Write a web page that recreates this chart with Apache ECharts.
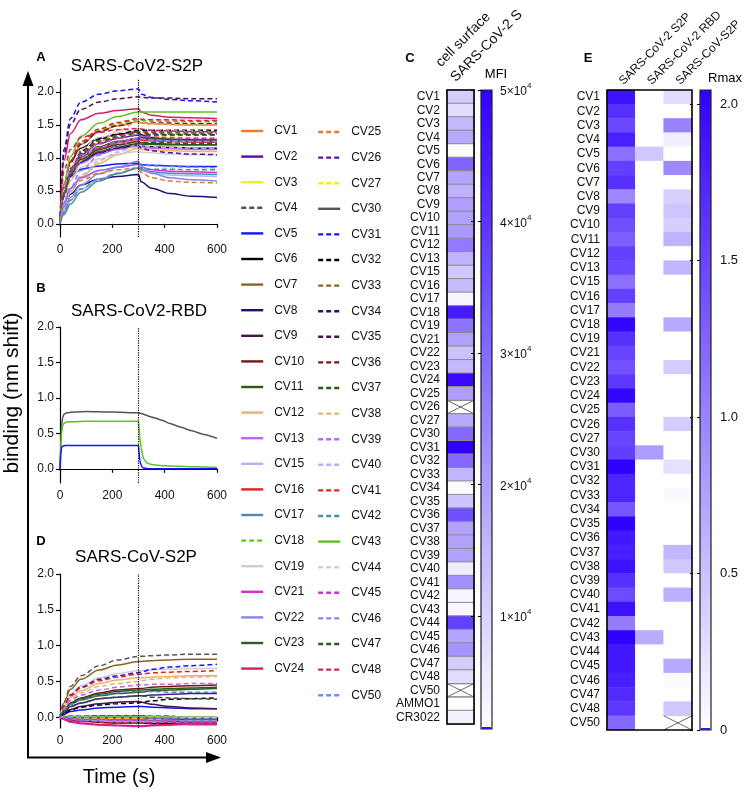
<!DOCTYPE html>
<html><head><meta charset="utf-8">
<script src="https://cdn.jsdelivr.net/npm/echarts@6/dist/echarts.min.js"></script>
<style>html,body{margin:0;padding:0;background:#fff}#c{width:747px;height:790px}</style>
</head><body><div id="c"></div>
<script>
// ---------- DATA ----------
const cvNames = ['CV1','CV2','CV3','CV4','CV5','CV6','CV7','CV8','CV9','CV10','CV11','CV12','CV13','CV15','CV16','CV17','CV18','CV19','CV21','CV22','CV23','CV24','CV25','CV26','CV27','CV30','CV31','CV32','CV33','CV34','CV35','CV36','CV37','CV38','CV39','CV40','CV41','CV42','CV43','CV44','CV45','CV46','CV47','CV48','CV50'];
const bindingTicks = [0, 0.5, 1, 1.5, 2];

// Time points (s) for panels A and D
const timeAD = [0, 15, 40, 80, 150, 220, 300, 310, 350, 420, 500, 600];
// Panel A: SARS-CoV2-S2P, one row per cvNames entry
const bindingS2P = [
 [0,.54,.93,1.21,1.40,1.49,1.55,1.53,1.52,1.51,1.50,1.50],
 [0,.47,.81,1.05,1.22,1.30,1.35,1.32,1.29,1.27,1.26,1.25],
 [0,.23,.48,.71,.92,1.05,1.15,1.17,1.18,1.19,1.20,1.20],
 [0,.49,.84,1.09,1.26,1.34,1.40,1.39,1.39,1.38,1.38,1.38],
 [0,.51,.72,.83,.88,.91,.92,.90,.89,.88,.87,.87],
 [0,.42,.72,.94,1.08,1.15,1.20,1.18,1.17,1.16,1.15,1.15],
 [0,.46,.78,1.01,1.17,1.25,1.30,1.29,1.28,1.28,1.27,1.27],
 [0,.26,.45,.59,.68,.72,.75,.64,.54,.46,.42,.40],
 [0,.60,.95,1.15,1.30,1.36,1.40,1.35,1.31,1.28,1.26,1.25],
 [0,.44,.75,.98,1.13,1.20,1.25,1.23,1.22,1.21,1.20,1.20],
 [0,.43,.73,.95,1.10,1.17,1.22,1.21,1.21,1.20,1.20,1.20],
 [0,.23,.48,.71,.92,1.05,1.15,1.13,1.12,1.11,1.10,1.10],
 [0,.41,.71,.92,1.06,1.13,1.18,1.17,1.15,1.14,1.13,1.13],
 [0,.17,.36,.53,.68,.77,.85,.81,.77,.74,.73,.72],
 [0,.45,.77,1.00,1.15,1.23,1.28,1.27,1.26,1.25,1.24,1.24],
 [0,.14,.30,.48,.65,.76,.85,.82,.79,.77,.76,.75],
 [0,.55,.95,1.23,1.42,1.52,1.58,1.57,1.56,1.56,1.55,1.55],
 [0,.39,.66,.86,.99,1.06,1.10,1.09,1.08,1.06,1.05,1.05],
 [0,.32,.54,.70,.81,.86,.90,.86,.82,.80,.79,.78],
 [0,.19,.40,.59,.76,.86,.95,.87,.77,.70,.67,.65],
 [0,.46,.78,1.01,1.17,1.25,1.30,1.30,1.29,1.29,1.28,1.28],
 [0,.96,1.37,1.58,1.68,1.72,1.75,1.70,1.65,1.62,1.61,1.60],
 [0,.30,.51,.66,.77,.82,.85,.78,.70,.65,.63,.62],
 [0,.42,.72,.94,1.08,1.15,1.20,1.15,1.11,1.08,1.06,1.05],
 [0,.47,.81,1.05,1.22,1.30,1.35,1.34,1.33,1.32,1.31,1.30],
 [0,.46,.78,1.01,1.17,1.25,1.30,1.29,1.28,1.27,1.26,1.25],
 [0,1.13,1.60,1.85,1.97,2.02,2.05,1.97,1.92,1.89,1.87,1.85],
 [0,.50,.85,1.11,1.28,1.36,1.42,1.42,1.42,1.42,1.42,1.42],
 [0,.49,.84,1.09,1.26,1.34,1.40,1.40,1.40,1.40,1.40,1.40],
 [0,.47,.81,1.05,1.22,1.30,1.35,1.35,1.35,1.35,1.35,1.35],
 [0,1.06,1.51,1.74,1.85,1.90,1.93,1.92,1.91,1.91,1.90,1.90],
 [0,.54,.93,1.21,1.40,1.49,1.55,1.54,1.53,1.53,1.52,1.52],
 [0,.48,.83,1.07,1.24,1.32,1.38,1.37,1.37,1.36,1.36,1.36],
 [0,.31,.65,.96,1.24,1.41,1.55,1.54,1.52,1.51,1.50,1.50],
 [0,.45,.77,1.00,1.16,1.24,1.30,1.29,1.27,1.26,1.25,1.25],
 [0,.24,.50,.74,.96,1.09,1.20,1.19,1.17,1.16,1.15,1.15],
 [0,.56,.96,1.25,1.44,1.54,1.60,1.59,1.58,1.58,1.57,1.57],
 [0,.17,.36,.53,.68,.77,.85,.84,.83,.83,.82,.82],
 [0,.60,1.02,1.33,1.53,1.63,1.70,1.70,1.70,1.70,1.70,1.70],
 [0,.51,.87,1.13,1.31,1.39,1.45,1.44,1.43,1.42,1.41,1.40],
 [0,.47,.81,1.05,1.22,1.30,1.35,1.33,1.32,1.31,1.30,1.30],
 [0,.26,.55,.81,1.04,1.18,1.30,1.29,1.27,1.26,1.25,1.25],
 [0,.44,.75,.98,1.13,1.20,1.25,1.24,1.23,1.23,1.22,1.22],
 [0,.80,1.13,1.31,1.39,1.43,1.45,1.44,1.42,1.41,1.40,1.40],
 [0,.32,.54,.70,.81,.86,.90,.89,.88,.87,.86,.85]
];
// Panel D: SARS-CoV-S2P, one row per cvNames entry
const bindingSARS1 = [
 [0,-.01,-.02,-.02,-.03,-.03,-.03,-.03,-.04,-.04,-.05,-.05],
 [0,.08,.15,.20,.26,.28,.30,.30,.31,.32,.33,.33],
 [0,-.01,-.02,-.03,-.03,-.04,-.04,-.04,-.05,-.05,-.06,-.06],
 [0,.21,.43,.58,.72,.80,.85,.85,.86,.87,.88,.88],
 [0,.04,.08,.10,.13,.14,.15,.15,.14,.13,.12,.12],
 [0,-.02,-.04,-.05,-.07,-.08,-.08,-.08,-.09,-.09,-.10,-.10],
 [0,.20,.39,.53,.66,.73,.78,.78,.79,.80,.81,.81],
 [0,-.01,-.03,-.03,-.04,-.05,-.05,-.05,-.06,-.06,-.07,-.07],
 [0,.06,.11,.15,.19,.21,.22,.21,.18,.15,.13,.12],
 [0,.10,.20,.27,.34,.38,.40,.40,.42,.43,.44,.45],
 [0,.10,.19,.26,.32,.36,.38,.38,.39,.40,.41,.42],
 [0,.14,.28,.37,.47,.52,.55,.55,.56,.57,.58,.58],
 [0,.01,.01,.01,.02,.02,.02,.02,.01,.01,0,0],
 [0,0,0,0,0,0,0,0,-.01,-.01,-.02,-.02],
 [0,-.01,-.01,-.01,-.02,-.02,-.02,-.02,-.03,-.03,-.04,-.04],
 [0,-.01,-.02,-.02,-.03,-.03,-.03,-.03,-.04,-.04,-.05,-.05],
 [0,.01,.01,.01,.02,.02,.02,.02,.01,.01,0,0],
 [0,.16,.33,.44,.55,.61,.65,.65,.66,.67,.68,.68],
 [0,-.03,-.07,-.09,-.11,-.12,-.13,-.13,-.12,-.11,-.10,-.10],
 [0,-.01,-.03,-.04,-.04,-.05,-.05,-.05,-.06,-.07,-.08,-.08],
 [0,.09,.18,.24,.30,.33,.35,.35,.37,.38,.39,.40],
 [0,-.03,-.06,-.08,-.10,-.11,-.12,-.12,-.11,-.10,-.09,-.09],
 [0,-.01,-.01,-.01,-.02,-.02,-.02,-.02,-.03,-.03,-.04,-.04],
 [0,.01,.01,.01,.02,.02,.02,.02,.01,.01,0,0],
 [0,0,-.01,-.01,-.01,-.01,-.01,-.01,-.02,-.02,-.03,-.03],
 [0,0,0,0,0,0,0,0,-.01,-.01,-.02,-.02],
 [0,.16,.31,.42,.53,.58,.62,.63,.67,.70,.72,.74],
 [0,.05,.10,.14,.17,.19,.20,.21,.23,.25,.26,.27],
 [0,.01,.01,.01,.02,.02,.02,.02,.01,.01,0,0],
 [0,0,0,0,0,0,0,0,-.01,-.01,-.02,-.02],
 [0,0,0,0,0,0,0,0,-.01,-.02,-.03,-.03],
 [0,0,0,0,0,0,0,0,-.01,-.01,-.02,-.02],
 [0,.01,.01,.01,.02,.02,.02,.02,.01,.01,0,0],
 [0,.13,.25,.34,.43,.47,.50,.51,.53,.55,.56,.57],
 [0,.11,.23,.31,.38,.42,.45,.45,.46,.46,.47,.47],
 [0,-.02,-.03,-.04,-.05,-.06,-.06,-.06,-.06,-.05,-.05,-.05],
 [0,.15,.30,.41,.51,.56,.60,.60,.62,.63,.64,.65],
 [0,.09,.18,.24,.31,.34,.36,.36,.36,.35,.35,.35],
 [0,.01,.01,.01,.01,.01,.01,.01,.01,0,0,0],
 [0,0,0,0,0,0,0,0,0,0,0,0],
 [0,-.01,-.02,-.03,-.03,-.04,-.04,-.04,-.05,-.05,-.06,-.06],
 [0,-.02,-.04,-.05,-.06,-.07,-.07,-.07,-.07,-.06,-.06,-.06],
 [0,.08,.15,.20,.26,.28,.30,.30,.28,.27,.26,.25],
 [0,-.02,-.04,-.06,-.07,-.08,-.08,-.08,-.08,-.07,-.07,-.07],
 [0,0,0,0,0,0,0,0,-.01,-.01,-.02,-.02]
];
// Panel B: SARS-CoV2-RBD
const timeB = [0,3,6,10,15,25,50,100,200,300,302,305,310,315,320,330,345,360,390,420,460,500,550,600];
const rbdNames = ['CV30', 'CV43', 'CV5'];
const rbdCV30 = [0,.35,.60,.72,.77,.79,.80,.81,.80,.79,.79,.785,.78,.775,.77,.755,.735,.72,.685,.64,.59,.54,.485,.43];
const rbdCV43 = [0,.30,.50,.60,.64,.66,.665,.67,.67,.67,.60,.45,.30,.20,.14,.09,.065,.055,.045,.04,.035,.03,.025,.02];
const rbdCV5  = [0,.20,.30,.32,.325,.33,.33,.33,.33,.33,.25,.12,.05,.02,.01,.005,0,0,0,0,0,0,0,0];

// Panel C: cell surface SARS-CoV-2 S, MFI (null = not tested)
const cRows = cvNames.concat(['AMMO1', 'CR3022']);
const cMFI = [11000,8000,15000,18000,2000,31000,19000,16000,20000,19500,21000,27000,16000,
 12000,14500,3500,45000,28000,
 19500,13000,15000,48000,20000,null,18000,
 30000,50000,30000,15500,2000,13000,35000,19500,19500,19500,5000,23000,3000,3000,38000,18500,22000,11000,8000,
 null,1500,4000];
const mfiTicks = [10000, 20000, 30000, 40000, 50000];
const mfiRange = [1400, 50000];

// Panel E: Rmax
const eCols = ['SARS-CoV-2 S2P', 'SARS-CoV-2 RBD', 'SARS-CoV-S2P'];
const rmaxS2P = [1.9,1.66,1.47,1.8,1.15,1.54,1.66,0.96,1.54,1.41,1.28,1.54,1.47,
 1.15,1.54,1.05,2.0,1.65,
 1.5,1.4,1.6,2.0,1.3,1.65,1.5,
 1.55,2.04,1.75,1.75,1.35,2.04,1.85,1.8,1.92,1.65,1.45,1.92,1.05,2.04,1.85,1.85,1.8,1.7,1.6,
 1.2];
const rmaxRBD = [0,0,0,0,0.45,0,0,0,0,0,0,0,0,
 0,0,0,0,0,
 0,0,0,0,0,0,0,
 0.8,0,0,0,0,0,0,0,0,0,0,0,0,0.67,0,0,0,0,0,
 0];
const rmaxSARS1 = [0.28,0,1.0,0.14,0,0.95,0,0.38,0.47,0.4,0.62,0,0.6,
 0,0,0,0.7,0,
 0,0.42,0,0,0,0.42,0,
 0,0.25,0,0.05,0,0,0,0.58,0.45,0,0.65,0,0,0,0,0.7,0.04,0,0.45,
 null];
const rmaxTicks = [0, 0.5, 1, 1.5, 2];
const rmaxRange = [0, 2.045];

// ---------- STYLES ----------
const lineColors = ['#e87a2c','#5b0ea6','#f2ee1a','#555555','#1414ff','#000000','#8b6424','#16166e','#4c124a','#7c1414','#2c5c12','#e2b574','#c264f2','#b4b2f6','#e42222','#4a8cb2','#62c01e','#cfcfcf','#d232cc','#8484f2','#2c5a2c','#d81e64',
 '#e87a2c','#5b0ea6','#f2ee1a','#555555','#1414ff','#000000','#8b6424','#16166e','#4c124a','#7c1414','#2c5c12','#e2b574','#c264f2','#b4b2f6','#e42222','#4a8cb2','#62c01e','#cfcfcf','#d232cc','#8484f2','#2c5a2c','#d81e64','#6a8ef2'];
const solidSet = ['CV1','CV2','CV3','CV5','CV6','CV7','CV8','CV9','CV10','CV11','CV12','CV13','CV15','CV16','CV17','CV19','CV21','CV22','CV23','CV24','CV30','CV43'];
const FONT = 'Liberation Sans, Arial, Helvetica, sans-serif';
const heatColors = ['#ffffff', '#3000ff'];

// ---------- BUILD ----------
const series = [];
const dotted = {
  silent: true, symbol: ['none', 'none'], animation: false,
  label: { show: false }, lineStyle: { type: 'dotted', color: '#000', width: 1.2 },
  data: [{ xAxis: 300 }]
};
function lineSer(name, grid, times, vals, first, smooth) {
  const i = cvNames.indexOf(name);
  const s = {
    type: 'line', name, xAxisIndex: grid, yAxisIndex: grid,
    data: times.map((t, k) => [t, vals[k]]),
    symbol: 'none', smooth: smooth, smoothMonotone: 'x', animation: false, silent: true,
    lineStyle: { color: lineColors[i], width: 1.5, type: solidSet.includes(name) ? 'solid' : [5, 3] },
    itemStyle: { color: lineColors[i] },
    emphasis: { disabled: true }
  };
  if (first) s.markLine = dotted;
  return s;
}
cvNames.forEach((n, i) => series.push(lineSer(n, 0, timeAD, bindingS2P[i], i === 0, 0.35)));
series.push(lineSer(rbdNames[0], 1, timeB, rbdCV30, true, 0.2));
series.push(lineSer(rbdNames[1], 1, timeB, rbdCV43, false, 0.2));
series.push(lineSer(rbdNames[2], 1, timeB, rbdCV5, false, 0.2));
cvNames.forEach((n, i) => series.push(lineSer(n, 2, timeAD, bindingSARS1[i], i === 0, 0.35)));

// heatmap C
const idxC = series.length;
series.push({
  type: 'heatmap', xAxisIndex: 3, yAxisIndex: 3, silent: true, animation: false,
  data: cMFI.map((v, i) => [0, i, v == null ? '-' : v]),
  itemStyle: { borderColor: '#8c8c8c', borderWidth: 1 },
  emphasis: { disabled: true }
});
// heatmap E
const idxE = series.length;
const eData = [];
[rmaxS2P, rmaxRBD, rmaxSARS1].forEach((arr, c) => arr.forEach((v, r) => eData.push([c, r, v == null ? '-' : v])));
series.push({
  type: 'heatmap', xAxisIndex: 5, yAxisIndex: 5, silent: true, animation: false,
  data: eData, emphasis: { disabled: true }
});

function crossItem(withBox) {
  return function (params, api) {
    const c = api.coord([api.value(0), api.value(1)]);
    const s = api.size([1, 1]);
    const x0 = c[0] - s[0] / 2, y0 = c[1] - s[1] / 2, x1 = x0 + s[0], y1 = y0 + s[1];
    const ch = [
      { type: 'line', shape: { x1: x0, y1: y0, x2: x1, y2: y1 }, style: { stroke: '#444', lineWidth: 0.8 } },
      { type: 'line', shape: { x1: x0, y1: y1, x2: x1, y2: y0 }, style: { stroke: '#444', lineWidth: 0.8 } }
    ];
    if (withBox) ch.push({ type: 'rect', shape: { x: x0, y: y0, width: s[0], height: s[1] }, style: { fill: 'none', stroke: '#8c8c8c', lineWidth: 1 } });
    return { type: 'group', children: ch };
  };
}
// X marks for missing cells
series.push({
  type: 'custom', xAxisIndex: 3, yAxisIndex: 3, silent: true, animation: false, z: 5,
  data: cMFI.map((v, i) => v == null ? [0, i] : null).filter(d => d),
  renderItem: crossItem(true)
});
series.push({
  type: 'custom', xAxisIndex: 5, yAxisIndex: 5, silent: true, animation: false, z: 5,
  data: eData.filter(d => d[2] === '-').map(d => [d[0], d[1]]),
  renderItem: crossItem(false)
});
// frames
function frame(params) {
  const cs = params.coordSys;
  return { type: 'rect', shape: { x: cs.x, y: cs.y, width: cs.width, height: cs.height }, style: { fill: 'none', stroke: '#000', lineWidth: 1.6 } };
}
series.push({ type: 'custom', xAxisIndex: 3, yAxisIndex: 3, data: [[0, 0]], renderItem: frame, silent: true, animation: false, z: 6 });
series.push({ type: 'custom', xAxisIndex: 5, yAxisIndex: 5, data: [[0, 0]], renderItem: frame, silent: true, animation: false, z: 6 });
// colour bars
function bar(params, api) {
  const p0 = api.coord([0, api.value(1)]);
  const p1 = api.coord([1, api.value(2)]);
  return {
    type: 'group', children: [
      { type: 'rect', shape: { x: p0[0], y: p1[1], width: p1[0] - p0[0], height: p0[1] - p1[1] },
        style: { fill: new echarts.graphic.LinearGradient(0, 0, 0, 1, [{ offset: 0, color: heatColors[1] }, { offset: 1, color: heatColors[0] }]), stroke: '#222', lineWidth: 1.2 } },
      { type: 'line', shape: { x1: p0[0] + 1, y1: p0[1] - 1, x2: p1[0] - 1, y2: p0[1] - 1 }, style: { stroke: '#2020e0', lineWidth: 2 } }
    ]
  };
}
series.push({ type: 'custom', xAxisIndex: 4, yAxisIndex: 4, data: [[0, mfiRange[0], mfiRange[1]]], renderItem: bar, silent: true, animation: false, z: 1 });
series.push({ type: 'custom', xAxisIndex: 6, yAxisIndex: 6, data: [[0, rmaxRange[0], rmaxRange[1]]], renderItem: bar, silent: true, animation: false, z: 1 });

// ---------- AXES ----------
const axLine = { show: true, lineStyle: { color: '#000', width: 1.2 } };
const tick = { show: true, length: 4, lineStyle: { color: '#000', width: 1.2 } };
const lab = { color: '#111', fontSize: 12, fontFamily: FONT };
function timeAxis(g) {
  return { type: 'value', gridIndex: g, min: 0, max: 600, interval: 200, axisLine: axLine, axisTick: tick,
    axisLabel: Object.assign({ margin: 7 }, lab), splitLine: { show: false } };
}
function bindAxis(g, min, max) {
  return { type: 'value', gridIndex: g, min, max, axisLine: axLine,
    axisTick: Object.assign({ customValues: bindingTicks }, tick),
    axisLabel: Object.assign({ customValues: bindingTicks, margin: 6, formatter: v => v.toFixed(1) }, lab),
    splitLine: { show: false } };
}
const xAxis = [
  timeAxis(0), timeAxis(1), timeAxis(2),
  { type: 'category', gridIndex: 3, position: 'top', data: ['cell surface\nSARS-CoV-2 S'],
    axisLine: { show: false }, axisTick: { show: false },
    axisLabel: { rotate: -45, align: 'left', verticalAlign: 'bottom', interval: 0, margin: 3, fontSize: 14, lineHeight: 21, color: '#111', fontFamily: FONT } },
  { type: 'value', gridIndex: 4, min: 0, max: 1, show: false },
  { type: 'category', gridIndex: 5, position: 'top', data: eCols,
    axisLine: { show: false }, axisTick: { show: false },
    axisLabel: { rotate: -45, align: 'left', verticalAlign: 'middle', interval: 0, margin: 7, fontSize: 12, color: '#111', fontFamily: FONT } },
  { type: 'value', gridIndex: 6, min: 0, max: 1, show: false }
];
const rowAxis = (g, rows) => ({ type: 'category', gridIndex: g, data: rows, inverse: true,
  axisLine: { show: false }, axisTick: { show: false },
  axisLabel: { interval: 0, margin: 7, fontSize: 12, color: '#111', fontFamily: FONT } });
const barTick = (vals) => ({ show: true, inside: true, length: 11, customValues: vals, lineStyle: { color: '#000', width: 1, type: [3, 4] } });
const yAxis = [
  bindAxis(0, -0.2, 2.2), bindAxis(1, -0.2, 2.0), bindAxis(2, -0.15, 2.0),
  rowAxis(3, cRows),
  { type: 'value', gridIndex: 4, position: 'right', min: mfiRange[0], max: mfiRange[1], z: 5,
    axisLine: { show: false }, axisTick: barTick(mfiTicks), splitLine: { show: false },
    axisLabel: { customValues: mfiTicks, margin: 8, color: '#111', fontFamily: FONT,
      formatter: v => '{m|' + Math.round(v / 10000) + '×10}{e|4}',
      rich: { m: { fontSize: 12, lineHeight: 16, verticalAlign: 'bottom', fontFamily: FONT, color: '#111' },
              e: { fontSize: 8, lineHeight: 16, verticalAlign: 'top', padding: [0, 0, 8, 0], fontFamily: FONT, color: '#111' } } } },
  rowAxis(5, cvNames),
  { type: 'value', gridIndex: 6, position: 'right', min: rmaxRange[0], max: rmaxRange[1], z: 5,
    axisLine: { show: false }, axisTick: barTick(rmaxTicks), splitLine: { show: false },
    axisLabel: { customValues: rmaxTicks, margin: 9, fontSize: 13, color: '#111', fontFamily: FONT,
      formatter: v => v === 0 ? '0' : v.toFixed(1) } }
];
const gridBox = (left, top, width, height) => ({ left, top, width, height, containLabel: false, outerBoundsMode: 'none' });
const grid = [
  gridBox(60, 79, 157, 158),
  gridBox(60, 327, 157, 156),
  gridBox(60, 574, 157, 154),
  gridBox(447, 90, 27, 634),
  gridBox(481, 90, 11, 639),
  gridBox(607, 90, 85, 640),
  gridBox(700, 90, 11, 640)
];
const legendBase = { orient: 'vertical', padding: 0, itemWidth: 22, itemHeight: 14, itemGap: 13.6, selectedMode: false,
  itemStyle: { opacity: 0 }, lineStyle: { width: 2.4 },
  textStyle: { fontSize: 12, color: '#111', fontFamily: FONT, padding: [0, 0, 0, 6] } };
const legend = [
  Object.assign({ left: 240, top: 125, data: cvNames.slice(0, 22) }, legendBase),
  Object.assign({ left: 317, top: 126, data: cvNames.slice(22) }, legendBase)
];
const txt = (x, y, s, size, bold, extra) => Object.assign({ type: 'text', x, y, silent: true,
  style: { text: s, fontSize: size, fontWeight: bold ? 'bold' : 'normal', fill: '#000', fontFamily: FONT, align: 'center', verticalAlign: 'middle' } }, extra || {});
const graphic = [
  txt(41, 57, 'A', 13, true), txt(137, 66, 'SARS-CoV2-S2P', 17),
  txt(41, 288, 'B', 13, true), txt(139, 311, 'SARS-CoV2-RBD', 17),
  txt(41, 541, 'D', 13, true), txt(136, 557, 'SARS-CoV-S2P', 17),
  txt(410, 58, 'C', 13, true), txt(588, 58, 'E', 13, true),
  txt(496, 74, 'MFI', 13), txt(725, 78, 'Rmax', 13),
  txt(12, 393, 'binding (nm shift)', 21, false, { rotation: Math.PI / 2 }),
  txt(119, 777, 'Time (s)', 20),
  { type: 'polyline', silent: true, shape: { points: [[28, 84], [28, 757.5], [208, 757.5]] }, style: { stroke: '#000', lineWidth: 2, fill: 'none' } },
  { type: 'polygon', silent: true, shape: { points: [[22.5, 86], [28, 71], [33.5, 86]] }, style: { fill: '#000' } },
  { type: 'polygon', silent: true, shape: { points: [[206, 752], [221, 757.5], [206, 763]] }, style: { fill: '#000' } }
];

const chart = echarts.init(document.getElementById('c'), null, { renderer: 'canvas' });
chart.setOption({
  animation: false,
  backgroundColor: '#fff',
  textStyle: { fontFamily: FONT },
  grid, xAxis, yAxis, legend, graphic, series,
  visualMap: [
    { type: 'continuous', show: false, seriesIndex: idxC, min: mfiRange[0], max: mfiRange[1], inRange: { color: heatColors } },
    { type: 'continuous', show: false, seriesIndex: idxE, min: rmaxRange[0], max: rmaxRange[1], inRange: { color: heatColors } }
  ]
});
</script></body></html>
